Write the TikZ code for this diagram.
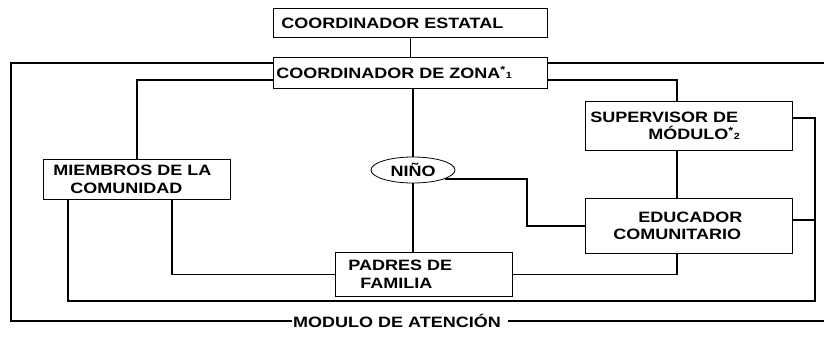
\documentclass[tikz,border=0pt]{standalone}
\usepackage{fontspec}
\setmainfont{Liberation Sans}[FakeStretch=1.2]
\usetikzlibrary{shapes.geometric, positioning}

\begin{document}
\begin{tikzpicture}[
  x=1pt, y=-1pt,
  txt/.style={font=\fontsize{15}{17.5}\selectfont\bfseries},
  box/.style={
    txt, rectangle, draw=black, line width=0.8pt, anchor=north west,
    align=left, inner ysep=0pt
  },
  link/.style={line width=1.8pt},
  frame/.style={line width=1.5pt}
]
  \useasboundingbox (0,0) rectangle (824,337);

  % Nodes
  \node[box, inner xsep=8pt, text width=258pt, minimum height=29pt] (estatal) at (273,8)
    {COORDINADOR ESTATAL};
  \node[box, inner xsep=3pt, text width=268pt, minimum height=31pt, below=19pt of estatal] (zona)
    {COORDINADOR DE ZONA\textsuperscript{*}{\small 1}};
  \node[box, inner xsep=5pt, text width=197pt, minimum height=49pt] (sup) at (585,101)
    {SUPERVISOR DE\\\hspace*{58pt}MÓDULO\textsuperscript{*}{\small 2}};
  \node[box, inner xsep=28pt, text width=151pt, minimum height=55pt, below=47pt of sup] (educ)
    {\hspace*{25pt}EDUCADOR\\COMUNITARIO};
  \node[box, inner xsep=10pt, text width=167pt, minimum height=40pt] (miem) at (43,159)
    {MIEMBROS DE LA\\\hspace*{17pt}COMUNIDAD};
  \node[box, inner xsep=13pt, text width=151pt, minimum height=44pt] (padres) at (335,252)
    {PADRES DE\\\hspace*{12pt}FAMILIA};
  \node[txt, draw, ellipse, line width=0.8pt, minimum width=84pt, minimum height=26pt,
    inner sep=0pt] (nino) at (413,170) {NIÑO};
  \node[txt, inner xsep=1pt] (modulo) at (397,321) {MODULO DE ATENCIÓN};

  % Corners
  \coordinate (col)  at (677,0);
  \coordinate (knee) at (527,200);
  \coordinate (fl)   at (11,63);
  \coordinate (fr)   at (824,63);
  \coordinate (br)   at (824,321);
  \coordinate (sr)   at (815,118);
  \coordinate (er)   at (815,220);
  \coordinate (ir)   at (815,301);
  \coordinate (il)   at (68,301);

  % Links
  \draw[link] (estatal) -- (zona);
  \draw[link] (zona.south -| nino.north) -- (nino.north);
  \draw[link] (nino.south) -- (nino.south |- padres.north);
  \draw[link] ([yshift=-7.5pt]zona.west) -| (miem.north);
  \draw[link] ([yshift=-7.5pt]zona.east) -| (sup.north -| col);
  \draw[link] (sup.south -| col) -- (educ.north -| col);
  \draw[link] (educ.south -| col) |- (padres.east);
  \draw[link] (nino.-15) -| (knee) |- (educ.west);
  \draw[link] (miem.south -| 172,0) |- (padres.west);
  \draw[link] (sr -| sup.east) -- (sr) -- (ir) -- (il) -- (miem.south -| il);
  \draw[link] (er -| educ.east) -- (er);

  % Frame
  \draw[frame] (fl -| zona.west) -- (fl) |- (modulo.west);
  \draw[frame] (fl -| zona.east) -- (fr);
  \draw[frame] ([xshift=6pt]modulo.east) -- (br);
\end{tikzpicture}
\end{document}
